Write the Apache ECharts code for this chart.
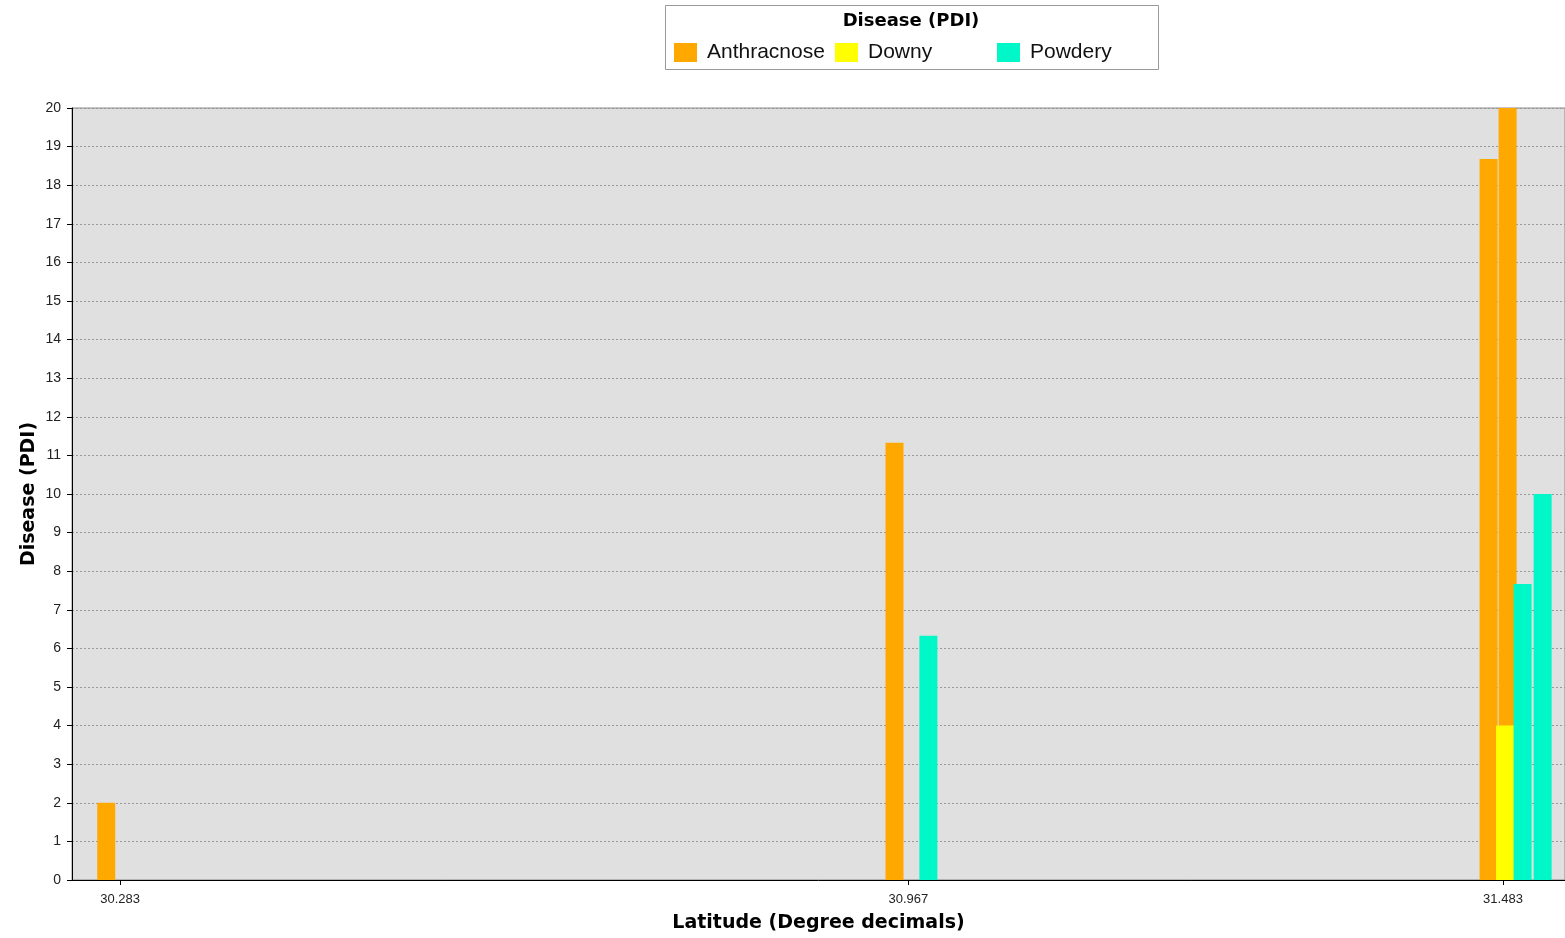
<!DOCTYPE html>
<html>
<head>
<meta charset="utf-8">
<script src="https://cdn.jsdelivr.net/npm/echarts@6/dist/echarts.min.js"></script>
<style>html,body{margin:0;padding:0;background:#fff}#c{width:1565px;height:938px}</style>
</head>
<body>
<div id="c"></div>
<script>
// Data
const seriesNames = ['Anthracnose', 'Downy', 'Powdery'];
const anthracnoseLat = [30.271, 30.955, 31.4705, 31.487];
const anthracnoseVal = [2, 11.33, 18.68, 20];
const downyLat = [31.4848];
const downyVal = [4];
const powderyLat = [30.9844, 31.500, 31.5174];
const powderyVal = [6.33, 7.67, 10];
const xTickValues = [30.283, 30.967, 31.483];
const yTickMin = 0, yTickMax = 20, yTickStep = 1;

const colors = ['#FFA800', '#FFFF00', '#00F8C8'];
const pair = (xs, ys) => xs.map((x, i) => [x, ys[i]]);
const dataSets = [pair(anthracnoseLat, anthracnoseVal), pair(downyLat, downyVal), pair(powderyLat, powderyVal)];

const boldFont = '"DejaVu Sans", Verdana, sans-serif';
const plainFont = 'Arial, "Liberation Sans", sans-serif';
const chart = echarts.init(document.getElementById('c'));
const legendLefts = [674, 835, 997];
chart.setOption({
  animation: false,
  backgroundColor: '#fff',
  textStyle: { fontFamily: plainFont },
  graphic: [
    { type: 'rect', left: 665, top: 5, shape: { width: 493, height: 64 }, style: { fill: '#fff', stroke: '#999', lineWidth: 1 }, z: 0 },
    { type: 'text', x: 911, y: 12, style: { text: 'Disease (PDI)', textAlign: 'center', font: 'bold 18px ' + boldFont, fill: '#000' }, z: 1 }
  ],
  legend: seriesNames.map((n, i) => ({
    data: [n], left: legendLefts[i], top: 42, itemWidth: 23, itemHeight: 19, itemGap: 10, padding: 0,
    icon: 'rect', selectedMode: false,
    textStyle: { fontSize: 21, color: '#111', fontFamily: plainFont, padding: [0, 0, 0, 5] }
  })),
  grid: { left: 72, right: 0, top: 108, bottom: 58, show: true, backgroundColor: '#E0E0E0', borderColor: '#888', borderWidth: 1 },
  xAxis: {
    type: 'value', min: 30.2413, max: 31.5368,
    name: 'Latitude (Degree decimals)', nameLocation: 'middle', nameGap: 34,
    nameTextStyle: { fontSize: 19, fontWeight: 'bold', color: '#000', fontFamily: boldFont },
    axisLine: { lineStyle: { color: '#000', width: 1 } },
    axisTick: { show: true, length: 5, lineStyle: { color: '#000' }, customValues: xTickValues },
    axisLabel: { customValues: xTickValues, formatter: v => v.toFixed(3), fontSize: 13, color: '#222', margin: 13 },
    splitLine: { show: false }
  },
  yAxis: {
    type: 'value', min: yTickMin, max: yTickMax, interval: yTickStep,
    name: 'Disease (PDI)', nameLocation: 'middle', nameGap: 33, nameRotate: 90, nameMoveOverlap: false,
    nameTextStyle: { fontSize: 19, fontWeight: 'bold', color: '#000', fontFamily: boldFont },
    axisLine: { show: true, lineStyle: { color: '#000', width: 1 } },
    axisTick: { show: true, length: 5, lineStyle: { color: '#000' } },
    axisLabel: { fontSize: 14, color: '#222', margin: 11 },
    splitLine: { show: true, lineStyle: { color: '#999', type: [2, 2], width: 1 } }
  },
  series: seriesNames.map((n, i) => ({
    name: n, type: 'bar', data: dataSets[i], barWidth: 18, barGap: '-100%',
    itemStyle: { color: colors[i] }
  }))
});
</script>
</body>
</html>
